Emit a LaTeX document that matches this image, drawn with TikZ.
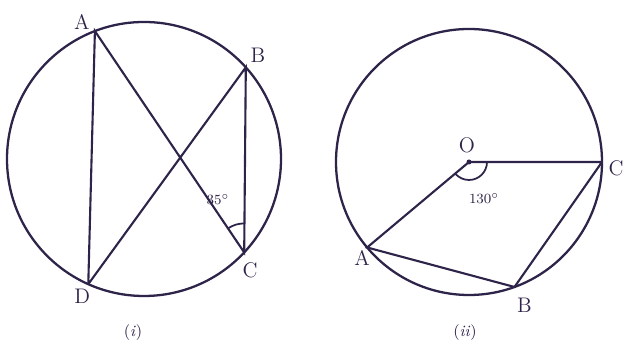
\documentclass[tikz,border=0pt]{standalone}
\usepackage{tikz}
\usetikzlibrary{calc}
\definecolor{ink}{HTML}{2E2348}

\tikzset{
  rim/.style={draw=ink, line width=1.3pt},
  chord/.style={draw=ink, line width=1.2pt},
  lbl/.style={text=ink, font=\large},
  anglbl/.style={text=ink, font=\footnotesize},
}

\begin{document}
\begin{tikzpicture}[x=0.02cm, y=0.02cm]
  \useasboundingbox (0,0) rectangle (625,350);

  % figure (i)
  \coordinate (Oi) at (144,191);
  \draw[rim] (Oi) circle (137);
  \coordinate (A1) at ($(Oi)+(111:137)$);
  \coordinate (B1) at ($(Oi)+(42:137)$);
  \coordinate (C1) at ($(Oi)+(-43:137)$);
  \coordinate (D1) at ($(Oi)+(246:137)$);
  \draw[chord] (D1) -- (A1) -- (C1) -- (B1) -- (D1);
  \draw[chord, line width=1pt] ([shift={(89:29)}]C1) arc (89:124:29);
  \node[lbl] (lA1) at ([shift={(-13,9)}]A1) {A};
  \node[lbl] (lB1) at ([shift={(12,12)}]B1) {B};
  \node[lbl] (lC1) at ([shift={(6,-18)}]C1) {C};
  \node[lbl] (lD1) at ([shift={(-6,-12)}]D1) {D};
  \node[anglbl] (ang1) at (218,150) {35$^\circ$};
  \node[text=ink, font=\small] (cap1) at (133,17) {(\textit{i})};

  % figure (ii)
  \coordinate (O) at (469,188);
  \draw[rim] (O) circle (133);
  \coordinate (A2) at ($(O)+(220:133)$);
  \coordinate (B2) at ($(O)+(290:133)$);
  \coordinate (C2) at ($(O)+(0:133)$);
  \draw[chord] (C2) -- (O) -- (A2) -- (B2) -- (C2);
  \draw[chord, line width=1pt] ([shift={(0:18)}]O) arc (0:-140:18);
  \fill[ink] (O) circle (2.5);
  \node[lbl] (lO) at ([shift={(-2,17)}]O) {O};
  \node[lbl] (lA2) at ([shift={(-5,-10)}]A2) {A};
  \node[lbl] (lB2) at ([shift={(10,-18)}]B2) {B};
  \node[lbl] (lC2) at ([shift={(14,-6)}]C2) {C};
  \node[anglbl] (ang2) at (484,151) {130$^\circ$};
  \node[text=ink, font=\small] (cap2) at (465,17) {(\textit{ii})};
\end{tikzpicture}
\end{document}
